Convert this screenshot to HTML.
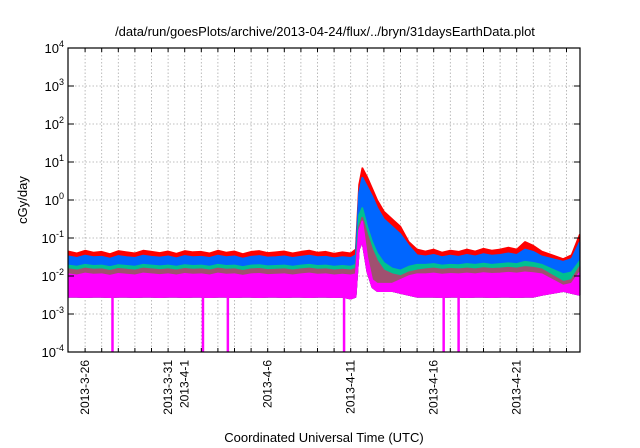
<!DOCTYPE html>
<html><head><meta charset="utf-8"><style>
html,body{margin:0;padding:0;background:#fff;}
svg{display:block;font-family:"Liberation Sans",sans-serif;}
</style></head><body>
<svg id="chart" width="640" height="448" viewBox="0 0 640 448"></svg>
<script>
// ---- data (log10 cGy/day) ----
const times = [0,0.5,1,1.5,2,2.5,3,3.5,4,4.5,5,5.5,6,6.5,7,7.5,8,8.5,9,9.5,10,10.5,11,11.5,12,12.5,13,13.5,14,14.5,15,15.5,16,16.5,17,
 17.3,17.5,17.7,18,18.3,18.6,19,19.5,20,20.5,21,
 21.5,22,22.5,23,23.5,24,24.5,25,25.5,26,26.5,27,27.5,28,28.5,
 29.8,30.3,30.8];
const red = [-1.35,-1.4,-1.33,-1.38,-1.36,-1.42,-1.34,-1.37,-1.4,-1.33,-1.36,-1.39,-1.35,-1.41,-1.34,-1.37,-1.36,-1.4,-1.33,-1.38,-1.35,-1.42,-1.36,-1.34,-1.39,-1.37,-1.35,-1.4,-1.36,-1.33,-1.38,-1.36,-1.41,-1.37,-1.4,
 -1.3,0.4,0.85,0.6,0.3,0.0,-0.3,-0.5,-0.7,-1.1,-1.3,
 -1.35,-1.3,-1.38,-1.33,-1.36,-1.3,-1.35,-1.28,-1.33,-1.3,-1.25,-1.3,-1.1,-1.2,-1.35,
 -1.55,-1.45,-0.9];
const blue = [-1.48,-1.52,-1.46,-1.5,-1.49,-1.54,-1.47,-1.5,-1.52,-1.46,-1.49,-1.51,-1.48,-1.53,-1.47,-1.5,-1.49,-1.52,-1.46,-1.5,-1.48,-1.54,-1.49,-1.47,-1.51,-1.5,-1.48,-1.52,-1.49,-1.46,-1.5,-1.49,-1.53,-1.5,-1.52,
 -1.45,0.2,0.6,0.35,0.1,-0.2,-0.5,-0.7,-0.9,-1.2,-1.45,
 -1.48,-1.44,-1.5,-1.46,-1.49,-1.44,-1.48,-1.42,-1.46,-1.44,-1.4,-1.44,-1.3,-1.36,-1.48,
 -1.62,-1.55,-1.1];
const green = [-1.72,-1.75,-1.7,-1.73,-1.72,-1.76,-1.71,-1.73,-1.75,-1.7,-1.72,-1.74,-1.72,-1.75,-1.71,-1.73,-1.72,-1.75,-1.7,-1.73,-1.72,-1.76,-1.72,-1.71,-1.74,-1.73,-1.72,-1.75,-1.72,-1.7,-1.73,-1.72,-1.75,-1.73,-1.75,
 -1.7,-0.4,-0.2,-0.7,-1.1,-1.4,-1.65,-1.8,-1.85,-1.75,-1.7,
 -1.7,-1.68,-1.72,-1.7,-1.71,-1.68,-1.7,-1.67,-1.7,-1.68,-1.66,-1.68,-1.62,-1.65,-1.7,
 -1.95,-1.9,-1.6];
const purple = [-1.82,-1.85,-1.8,-1.83,-1.82,-1.86,-1.81,-1.83,-1.85,-1.8,-1.82,-1.84,-1.82,-1.85,-1.81,-1.83,-1.82,-1.85,-1.8,-1.83,-1.82,-1.86,-1.82,-1.81,-1.84,-1.83,-1.82,-1.85,-1.82,-1.8,-1.83,-1.82,-1.85,-1.83,-1.85,
 -1.8,-0.7,-0.45,-0.9,-1.3,-1.6,-1.85,-1.95,-2.0,-1.9,-1.85,
 -1.82,-1.8,-1.83,-1.81,-1.82,-1.8,-1.82,-1.79,-1.81,-1.8,-1.78,-1.8,-1.76,-1.78,-1.82,
 -2.15,-2.1,-1.75];
const magHi = [-1.95,-1.98,-1.93,-1.96,-1.95,-1.99,-1.94,-1.96,-1.98,-1.93,-1.95,-1.97,-1.95,-1.98,-1.94,-1.96,-1.95,-1.98,-1.93,-1.96,-1.95,-1.99,-1.95,-1.94,-1.97,-1.96,-1.95,-1.98,-1.95,-1.93,-1.96,-1.95,-1.98,-1.96,-1.98,
 -1.95,-0.8,-0.55,-1.5,-2.1,-2.2,-2.2,-2.2,-2.1,-2.0,-1.95,
 -1.95,-1.93,-1.96,-1.94,-1.95,-1.93,-1.95,-1.92,-1.94,-1.93,-1.91,-1.93,-1.9,-1.92,-1.95,
 -2.25,-2.2,-1.9];
const magLo = [-2.55,-2.55,-2.56,-2.55,-2.55,-2.56,-2.55,-2.55,-2.56,-2.55,-2.55,-2.56,-2.55,-2.55,-2.56,-2.55,-2.55,-2.56,-2.55,-2.55,-2.56,-2.55,-2.55,-2.56,-2.55,-2.55,-2.56,-2.55,-2.55,-2.56,-2.55,-2.55,-2.56,-2.55,-2.6,
 -2.55,-1.3,-1.1,-1.9,-2.3,-2.4,-2.4,-2.4,-2.45,-2.5,-2.55,
 -2.55,-2.55,-2.56,-2.55,-2.55,-2.56,-2.55,-2.55,-2.56,-2.55,-2.55,-2.56,-2.55,-2.55,-2.5,
 -2.4,-2.45,-2.5];
const spikeDays = [2.65,8.1,9.6,16.6,22.6,23.5];
const xTickDays = [1,6,7,12,17,22,27];
const xTickLabels = ["2013-3-26","2013-3-31","2013-4-1","2013-4-6","2013-4-11","2013-4-16","2013-4-21"];
const yTickExp = [-4,-3,-2,-1,0,1,2,3,4];

// ---- layout ----
const L=68,R=580,T=48,B=352, dayPx=16.6;
const X=d=>L+0.5+d*dayPx;
const Y=lg=>B-(lg+4)*(B-T)/8;
const svg=document.getElementById('chart');
const NS='http://www.w3.org/2000/svg';
function mk(tag,attrs,parent){const e=document.createElementNS(NS,tag);for(const k in attrs)e.setAttribute(k,attrs[k]);(parent||svg).appendChild(e);return e;}

// grid
const grid=mk('g',{});


for(let d=1;d<31;d++){const x=X(d);if(x<R)mk('line',{x1:x,x2:x,y1:T,y2:B,stroke:'#aaa','stroke-width':0.8,'stroke-dasharray':'1.5,2'},grid);}
yTickExp.forEach(e=>{if(e>-4&&e<4)mk('line',{x1:L,x2:R,y1:Y(e),y2:Y(e),stroke:'#aaa','stroke-width':0.8,'stroke-dasharray':'1.5,2'},grid);});

// series
const plot=mk('g',{});


const series=[['red-series',red,'#ff0000'],['blue-series',blue,'#0066ff'],['green-series',green,'#00c090'],['purple-series',purple,'#a05070'],['magenta-series',magHi,'#ff00ff']];
series.forEach(([name,arr,col])=>{
  let d='M'+X(times[0])+','+Y(arr[0]);
  for(let i=1;i<times.length;i++)d+=' L'+X(times[i])+','+Y(arr[i]);
  for(let i=times.length-1;i>=0;i--)d+=' L'+X(times[i])+','+Y(magLo[i]);
  const p=mk('path',{d:d+'Z',fill:col,stroke:col,'stroke-width':1.5,'stroke-linejoin':'bevel'},plot);
  
  
});
spikeDays.forEach(s=>{
  const l=mk('line',{x1:X(s),x2:X(s),y1:Y(-2.55),y2:B,stroke:'#ff00ff','stroke-width':2.5},plot);
  
  
});

// frame
const fr=mk('rect',{x:L,y:T,width:R-L,height:B-T,fill:'none',stroke:'#000','stroke-width':1.2});



// y ticks
yTickExp.forEach(e=>{
  const y=Y(e);
  mk('line',{x1:L,x2:L+6,y1:y,y2:y,stroke:'#000'});mk('line',{x1:R,x2:R-6,y1:y,y2:y,stroke:'#000'});
  const t=mk('text',{x:L-4,y:y+5,'text-anchor':'end','font-size':13});
  
  
  const a=document.createElementNS(NS,'tspan');a.textContent='10';t.appendChild(a);
  const b=document.createElementNS(NS,'tspan');b.setAttribute('dy','-6');b.setAttribute('font-size','9');b.textContent=String(e);t.appendChild(b);
});
// x ticks
for(let d=1;d<31;d++){const x=X(d);if(x<R){mk('line',{x1:x,x2:x,y1:B,y2:B-4,stroke:'#000'});mk('line',{x1:x,x2:x,y1:T,y2:T+4,stroke:'#000'});}}
xTickDays.forEach((d,i)=>{
  const x=X(d);
  const t=mk('text',{x:0,y:0,transform:`translate(${x+4},360) rotate(-90)`,'text-anchor':'end','font-size':12});
  t.textContent=xTickLabels[i];
  
  
});
// titles
const tt=mk('text',{x:325,y:36,'text-anchor':'middle','font-size':13});
tt.textContent='/data/run/goesPlots/archive/2013-04-24/flux/../bryn/31daysEarthData.plot';


const xt=mk('text',{x:324,y:442,'text-anchor':'middle','font-size':13});
xt.textContent='Coordinated Universal Time (UTC)';


const yt=mk('text',{x:0,y:0,transform:'translate(27,200) rotate(-90)','text-anchor':'middle','font-size':13});
yt.textContent='cGy/day';


</script>
</body></html>
